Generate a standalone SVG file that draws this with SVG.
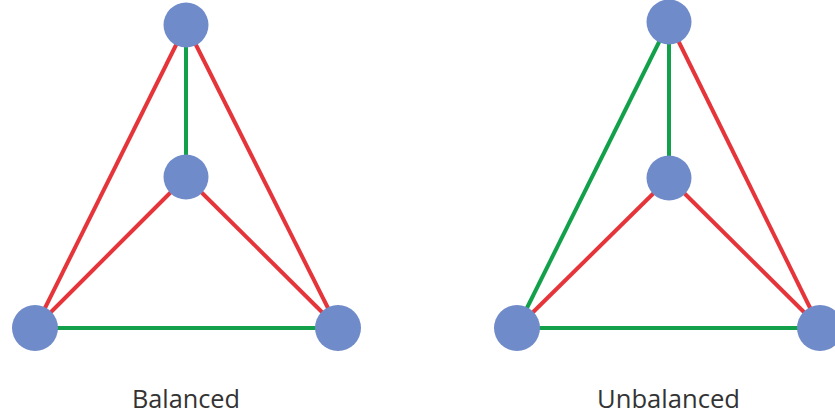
<svg xmlns="http://www.w3.org/2000/svg" width="835" height="414" viewBox="0 0 835 414">
<style>
.r{stroke:#e5353a;stroke-width:4;fill:none}
.g{stroke:#12a14a;stroke-width:4;fill:none}
.n{fill:#6f8bca}
.t{font-family:"Open Sans","Noto Sans",sans-serif;font-size:25px;fill:#333333}
</style>
<rect width="835" height="414" fill="#ffffff"/>
<g id="connectors">
<line class="g" x1="186" y1="25" x2="186" y2="177"/>
<line class="r" x1="186" y1="25" x2="35" y2="328"/>
<line class="r" x1="186" y1="25" x2="338" y2="328"/>
<line class="r" x1="186" y1="177" x2="35" y2="328"/>
<line class="r" x1="186" y1="177" x2="338" y2="328"/>
<line class="g" x1="35" y1="328" x2="338" y2="328"/>
<line class="g" x1="669" y1="22" x2="669" y2="178"/>
<line class="g" x1="669" y1="22" x2="517" y2="328"/>
<line class="r" x1="669" y1="22" x2="820" y2="328"/>
<line class="r" x1="669" y1="178" x2="517" y2="328"/>
<line class="r" x1="669" y1="178" x2="820" y2="328"/>
<line class="g" x1="517" y1="328" x2="820" y2="328"/>
</g>
<g id="L-top"><circle class="n" cx="186" cy="25" r="22.5"/></g>
<g id="L-center"><circle class="n" cx="186" cy="177" r="22.5"/></g>
<g id="L-left"><circle class="n" cx="35" cy="328" r="23"/></g>
<g id="L-right"><circle class="n" cx="338" cy="328" r="23"/></g>
<g id="R-top"><circle class="n" cx="669" cy="22" r="22.5"/></g>
<g id="R-center"><circle class="n" cx="669" cy="178" r="22.5"/></g>
<g id="R-left"><circle class="n" cx="517" cy="328" r="23"/></g>
<g id="R-right"><circle class="n" cx="820" cy="328" r="23"/></g>
<g id="labels">
<text class="t" x="132" y="408" textLength="108" lengthAdjust="spacingAndGlyphs">Balanced</text>
<text class="t" x="597" y="408" textLength="143" lengthAdjust="spacingAndGlyphs">Unbalanced</text>
</g>
</svg>
